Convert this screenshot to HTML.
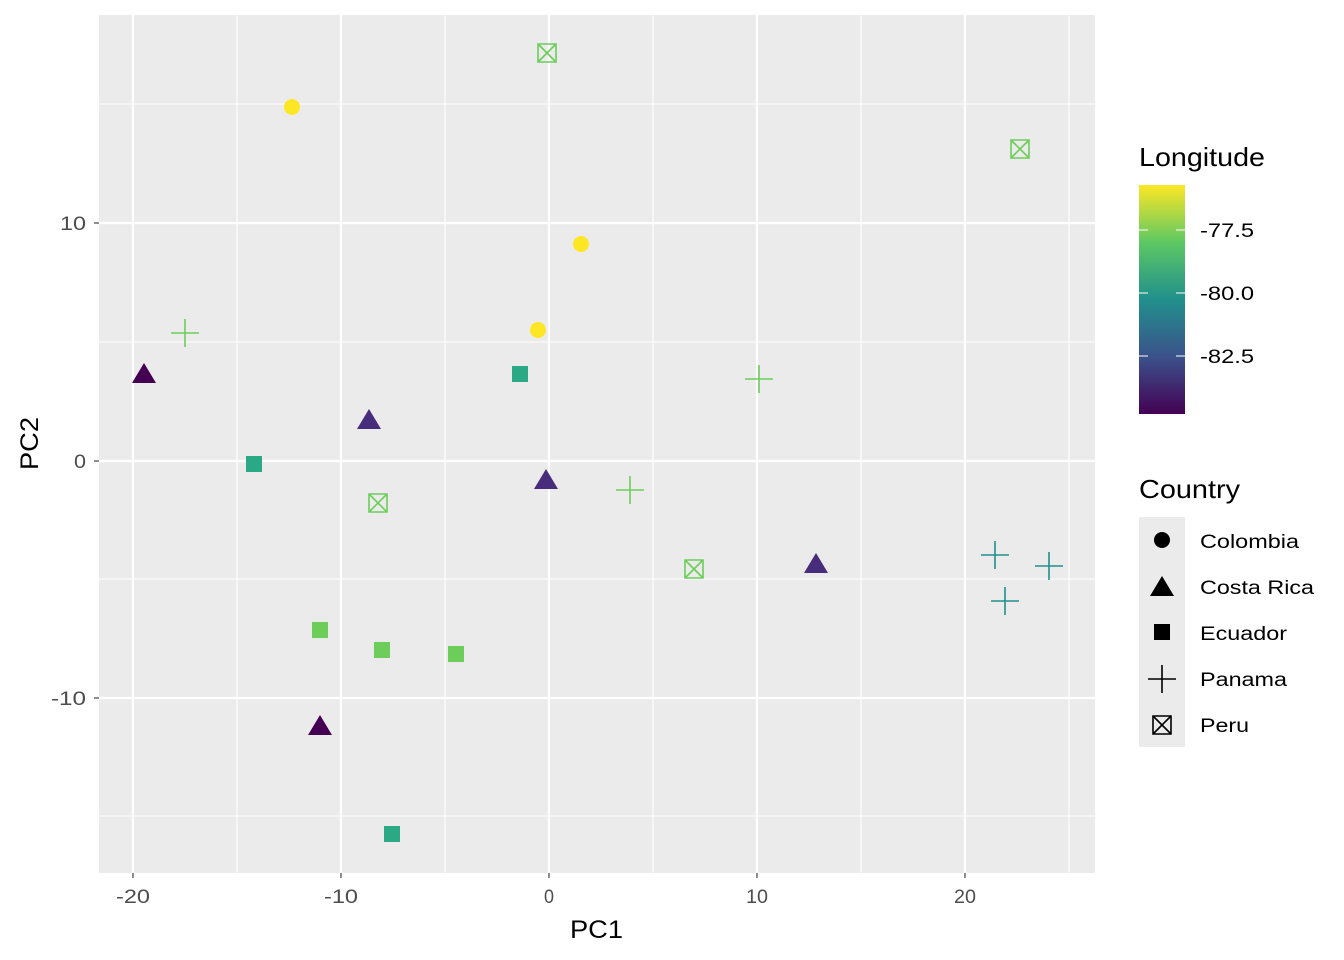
<!DOCTYPE html>
<html><head><style>body{margin:0;background:#fff}svg{display:block}</style></head><body>
<svg width="1344" height="960" xmlns="http://www.w3.org/2000/svg" font-family="Liberation Sans, sans-serif">
<defs>
<linearGradient id="vir" x1="0" y1="1" x2="0" y2="0">
<stop offset="0" stop-color="#440154"/><stop offset="0.25" stop-color="#3b528b"/><stop offset="0.5" stop-color="#21908c"/><stop offset="0.75" stop-color="#5dc863"/><stop offset="1" stop-color="#fde725"/>
</linearGradient>
</defs>
<rect x="99" y="15" width="996" height="858" fill="#ebebeb"/>
<g stroke="#fff" stroke-width="1.1">
<line x1="237" y1="15" x2="237" y2="873"/><line x1="445" y1="15" x2="445" y2="873"/><line x1="653" y1="15" x2="653" y2="873"/><line x1="861" y1="15" x2="861" y2="873"/><line x1="1069" y1="15" x2="1069" y2="873"/>
<line x1="99" y1="104" x2="1095" y2="104"/><line x1="99" y1="342" x2="1095" y2="342"/><line x1="99" y1="579" x2="1095" y2="579"/><line x1="99" y1="816" x2="1095" y2="816"/>
</g>
<g stroke="#fff" stroke-width="2.2">
<line x1="133" y1="15" x2="133" y2="873"/><line x1="341" y1="15" x2="341" y2="873"/><line x1="549" y1="15" x2="549" y2="873"/><line x1="757" y1="15" x2="757" y2="873"/><line x1="965" y1="15" x2="965" y2="873"/>
<line x1="99" y1="223" x2="1095" y2="223"/><line x1="99" y1="461" x2="1095" y2="461"/><line x1="99" y1="698" x2="1095" y2="698"/>
</g>
<g stroke="#333" stroke-width="1.1">
<line x1="133" y1="873" x2="133" y2="878"/><line x1="341" y1="873" x2="341" y2="878"/><line x1="549" y1="873" x2="549" y2="878"/><line x1="757" y1="873" x2="757" y2="878"/><line x1="965" y1="873" x2="965" y2="878"/>
<line x1="94" y1="223" x2="99" y2="223"/><line x1="94" y1="461" x2="99" y2="461"/><line x1="94" y1="698" x2="99" y2="698"/>
</g>
<g font-size="19" fill="#4d4d4d" lengthAdjust="spacingAndGlyphs">
<text x="116" y="903" textLength="34" lengthAdjust="spacingAndGlyphs">-20</text><text x="324" y="903" textLength="34" lengthAdjust="spacingAndGlyphs">-10</text><text x="544" y="903" textLength="10" lengthAdjust="spacingAndGlyphs">0</text><text x="746" y="903" textLength="22" lengthAdjust="spacingAndGlyphs">10</text><text x="954" y="903" textLength="22" lengthAdjust="spacingAndGlyphs">20</text>
<text x="60" y="230" textLength="26" lengthAdjust="spacingAndGlyphs">10</text><text x="74" y="468" textLength="12" lengthAdjust="spacingAndGlyphs">0</text><text x="51" y="705" textLength="35" lengthAdjust="spacingAndGlyphs">-10</text>
</g>
<text x="570" y="938" font-size="25" textLength="53" lengthAdjust="spacingAndGlyphs">PC1</text>
<text transform="translate(38,470) rotate(-90)" font-size="25" textLength="53" lengthAdjust="spacingAndGlyphs">PC2</text>
<!-- Colombia -->
<g fill="#fde725"><circle cx="292" cy="107" r="8"/><circle cx="581" cy="244" r="8"/><circle cx="538" cy="330" r="8"/></g>
<!-- Costa Rica -->
<g fill="#440154"><polygon points="144,363 156,383 132,383"/><polygon points="320,715 332,735 308,735"/></g>
<g fill="#472d7b"><polygon points="369,409 381,429 357,429"/><polygon points="546,469 558,489 534,489"/><polygon points="816,553 828,573 804,573"/></g>
<!-- Ecuador -->
<g fill="#2ba884"><rect x="246" y="456" width="16" height="16"/><rect x="512" y="366" width="16" height="16"/><rect x="384" y="826" width="16" height="16"/></g>
<g fill="#6ccd5a"><rect x="312" y="622" width="16" height="16"/><rect x="374" y="642" width="16" height="16"/><rect x="448" y="646" width="16" height="16"/></g>
<!-- Panama -->
<g stroke="#6ccd5a" stroke-width="1.6" fill="none">
<path d="M171 333h28M185 319v28"/><path d="M745 379h28M759 365v28"/><path d="M616 490h28M630 476v28"/>
</g>
<g stroke="#21908c" stroke-width="1.6" fill="none">
<path d="M981 555h28M995 541v28"/><path d="M991 601h28M1005 587v28"/><path d="M1035 566h28M1049 552v28"/>
</g>
<!-- Peru -->
<g stroke="#6ccd5a" stroke-width="1.6" fill="none">
<path d="M538 44h18v18h-18zM538 44l18 18M556 44l-18 18"/>
<path d="M1011 140h18v18h-18zM1011 140l18 18M1029 140l-18 18"/>
<path d="M369 494h18v18h-18zM369 494l18 18M387 494l-18 18"/>
<path d="M685 560h18v18h-18zM685 560l18 18M703 560l-18 18"/>
</g>
<!-- Legend -->
<text x="1139" y="166" font-size="26" textLength="126" lengthAdjust="spacingAndGlyphs">Longitude</text>
<rect x="1139" y="185" width="46" height="229" fill="url(#vir)"/>
<g stroke="#fff" stroke-width="1.1"><path d="M1139 230h9M1176 230h9M1139 293h9M1176 293h9M1139 356h9M1176 356h9"/></g>
<g font-size="19" fill="#000"><text x="1200" y="237" textLength="54" lengthAdjust="spacingAndGlyphs">-77.5</text><text x="1200" y="300" textLength="54" lengthAdjust="spacingAndGlyphs">-80.0</text><text x="1200" y="363" textLength="54" lengthAdjust="spacingAndGlyphs">-82.5</text></g>
<text x="1139" y="498" font-size="26" textLength="101" lengthAdjust="spacingAndGlyphs">Country</text>
<rect x="1139" y="517" width="46" height="230" fill="#ebebeb"/>
<circle cx="1162" cy="540" r="8"/>
<polygon points="1162,576 1174,596 1150,596"/>
<rect x="1154" y="624" width="16" height="16"/>
<path d="M1148 679h28M1162 665v28" stroke="#000" stroke-width="1.6"/>
<path d="M1153 716h18v18h-18zM1153 716l18 18M1171 716l-18 18" stroke="#000" stroke-width="1.6" fill="none"/>
<g font-size="19"><text x="1200" y="548" textLength="99" lengthAdjust="spacingAndGlyphs">Colombia</text><text x="1200" y="594" textLength="114" lengthAdjust="spacingAndGlyphs">Costa Rica</text><text x="1200" y="640" textLength="87" lengthAdjust="spacingAndGlyphs">Ecuador</text><text x="1200" y="686" textLength="87" lengthAdjust="spacingAndGlyphs">Panama</text><text x="1200" y="732" textLength="49" lengthAdjust="spacingAndGlyphs">Peru</text></g>
</svg>
</body></html>
